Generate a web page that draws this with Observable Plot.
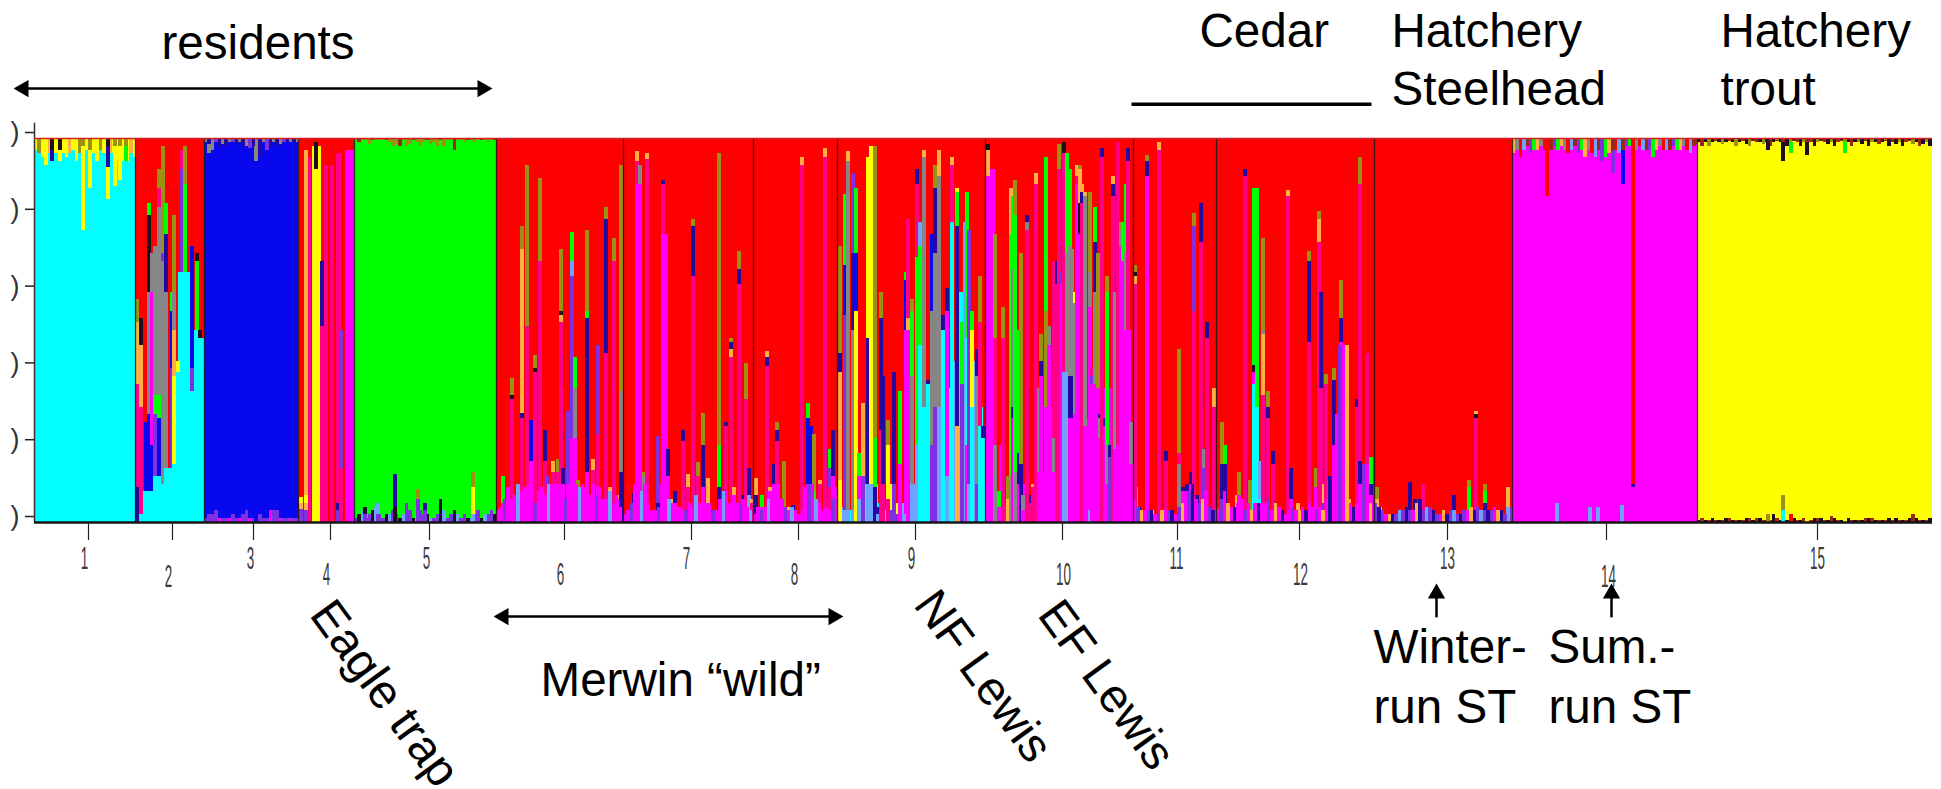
<!DOCTYPE html>
<html><head><meta charset="utf-8">
<script src="https://cdn.jsdelivr.net/npm/d3@7"></script>
<script src="https://cdn.jsdelivr.net/npm/@observablehq/plot@0.6"></script>
<style>html,body{margin:0;padding:0;background:#fff;overflow:hidden}svg{display:block}</style>
</head><body><div id="chart"></div>
<script>
// membership colours
const colorKeys = ["r","c","b","g","m","y","p","v","o","a","n","l","t","d","R"];
const colorVals = ["#ff0000","#00ffff","#0808ee","#00ff00","#ff00ff","#ffff00","#ff0088","#7f30e0","#9a9210","#868686","#2408a0","#6ea4ff","#ffb040","#1c1020","#9a2818"];

// populations: position where each one ends, and its main cluster
const popNames = [1,2,3,4,5,6,7,8,9,10,11,12,13,14,15];
const popStart = 34;
const popEnds = [135,204,298,354,496,623,753,837,985,1133,1216,1374,1512,1697,1932];
const popMain = "crbrgrrrrrrrrmy";
const colW = 3.4;

// axis
const yTicks = [0,.2,.4,.6,.8,1];
const xTickPos = [88,172,253,330,429,564,691,798,915,1062,1177,1299,1447,1606,1817];
const xLabelPos = [84,168,250,326,426,560,686,794,911,1063,1176,1300,1447,1608,1817];
const xLabelRow = [-.094,-.14,-.094,-.135,-.094,-.135,-.094,-.135,-.094,-.135,-.094,-.135,-.094,-.14,-.094];

// blocks [x1,x2,key,from,to]
const blocks = [
 // pop 2 cyan base
 [135,142,"c",0,.02],[142,150,"c",0,.08],[150,160,"c",0,.12],[160,170,"c",0,.14],[170,178,"c",0,.15],[178,192,"c",0,.65],[192,198,"c",0,.5],[198,204,"c",0,.48],
 // pop 4 stripes
 [305,308,"t",0,.97],[308,311,"p",0,.95],[312,321,"y",0,.98],[324,328,"p",0,.93],[330,334,"p",0,.93],[336,341,"p",0,.96],[345,354,"m",0,.97],
 // dark caps
 [34,135,"R",.988,1],[204,298,"R",.99,1],[354,496,"R",.994,1],[1512,1697,"R",.985,1],[1697,1932,"R",.992,1]
];

// runs of individuals along the bottom: {from, keys, tops, over: drawn above the individuals}
const lowRuns = [
 {over:true,from:496,keys:"mmvmmmlmm",tops:[.03,.04,.06,.09,.06,.07,.1,.08,.09,.1,.09,.05,.08,.09,.07,.1,.1,.1,.1,.08,.06,.06,.09,.1,.09,.1,.09,.07,.07,.07,.09,.06,.06,.08,.05,.07,.04]},
 {over:true,from:623,keys:"mmvmmlmm",tops:[.02,.03,.05,.1,.1,.08,.1,.05,.03,.03,.04,.1,.1,.06,.05,.04,.04,.03,.03,.05,.04,.07,.05,.09,.05,.05,.03,.03,.06,.08,.08,.05,.07,.05,.05,.06,.04,.03]},
 {over:true,from:753,keys:"mmvmlmm",tops:[.02,.04,.03,.04,.06,.08,.1,.1,.06,.04,.03,.04,.03,.02,.03,.04,.1,.1,.06,.05,.03,.04,.03,.06,.09]},
 {from:837,keys:"clcclc",tops:[.03,.04,.05,.03,.03,.05,.05,.05,.1,.12,.08,.1,.05,.04,.03,.04,.03,.04,.03,.05,.05,.05,.1,.1,.12,.1,.2,.3,.4,.45,.4,.35,.3,.35,.42,.5,.6,.78,.4,.3,.42,.45,.3,.22]},
 {from:985,keys:"mmmmmmmmmmmmlm",tops:[.92,.92,.92,.05,.2,.06,.05,.07,.06,.27,.27,.1,.1,.05,.06,.05,.1,.13,.2,.3,.46,.48,.5,.65,.65,.63,.5,.38,.38,.28,.27,.3,.3,.3,.28,.35,.35,.2,.2,.45,.55,.5,.5]},
 {over:true,from:1133,keys:"mvtmvn",tops:[.06,.04,.03,.03,.03,.03,.02,.02,.03,.03,.03,.03,.02,.04,.05,.08,.08,.1,.06,.05,.06,.08,.04,.03,.04]},
 {over:true,from:1216,keys:"mvmtmnm",tops:[.03,.06,.08,.05,.04,.04,.05,.06,.03,.05,.03,.05,.05,.05,.05,.06,.03,.05,.04,.03,.02,.03,.04,.03,.03,.04,.03,.05,.04,.03,.04,.03,.06,.12,.2,.28,.46,.46,.46,.05,.04,.05,.06,.15,.15,.05]},
 {over:true,from:1374,keys:"vnvmtnvl",tops:[.05,.04,.03,.02,.02,.02,.02,.03,.03,.04,.03,.03,.05,.06,.03,.04,.04,.03,.02,.02,.03,.02,.03,.03,.02,.02,.03,.03,.04,.03,.04,.03,.03,.03,.03,.04,.03,.03,.02,.03,.04]},
 {from:204,keys:"vmv",tops:[.01,.03,.02,.03,.01,.01,.01,.01,.02,.01,.01,.02,.03,.01,.01,.01,.01,.01,.01,.03,.03,.03,.01,.01,.01,.01,.01,.01]},
 {from:354,keys:"vdlv",tops:[.01,.02,.03,.01,.02,.03,.04,.02,.01,.02,.02,.03,.02,.01,.02,.05,.03,.01,.02,.03,.02,.02,.01,.01,.02,.06,.03,.01,.02,.03,.02,.01,.02,.01,.01,.02,.03,.01,.02,.02,.03,.02]},
 {from:1697,keys:"dR",tops:[.005,.01,.005,.005,.01,.005,.005,.005,.01,.01,.005,.005,.005,.005,.01,.01,.005,.01,.01,.005,.005,.005,.02,.01,.005,.015,.005,.01,.01,.005,.005,.01,.005,.005,.01,.01,.01,.005,.005,.015,.01,.005,.005,.01,.01,.005,.005,.005,.005,.01,.01,.01,.005,.005,.005,.005,.01,.005,.01,.005,.005,.005,.01,.02,.01,.005,.005,.005,.01]}
];

// runs of individuals along the top: {from, keys, depths}
const topRuns = [
 {from:34,keys:"yoyyty",depths:[.03,.04,.05,.07,.04,.06,.04,.03,.04,.05,.04,.03,.06,.04,.03,.03,.04,.04,.06,.03,.04,.04,.04,.04,.06,.04,.06,.06,.04,.05]},
 {from:204,keys:"anavn",depths:[.01,.04,.03,.01,.02,.015,.02,.01,.01,.015,.01,.02,.02,.025,.02,.02,.015,.01,.03,.02,.01,.02,.015,.01,.01,.01,.01,.01]},
 {from:354,keys:"oRoo",depths:[.005,.01,.005,.005,.015,.005,.005,.005,.005,.005,.01,.02,.015,.02,.005,.02,.015,.005,.01,.02,.01,.005,.015,.01,.02,.005,.02,.005,.005,.03,.005,.005,.01,.005,.005,.01,.005,.005,.005,.01,.005,.005]},
 {from:1512,keys:"tarlRvg",depths:[.04,.03,.05,.03,.02,.04,.03,.03,.02,.03,.04,.03,.02,.03,.02,.03,.04,.03,.02,.04,.03,.05,.03,.04,.05,.03,.06,.05,.04,.05,.03,.04,.03,.02,.02,.03,.03,.02,.03,.03,.03,.05,.03,.02,.03,.03,.03,.02,.03,.03,.02,.03,.04,.02]},
 {from:1697,keys:"dRdo",depths:[.01,.02,.01,.02,.01,.005,.01,.015,.01,.005,.01,.02,.01,.005,.015,.02,.005,.01,.01,.015,.01,.02,.01,.005,.01,.015,.02,.01,.005,.01,.02,.01,.015,.01,.02,.01,.005,.01,.015,.01,.02,.01,.005,.015,.01,.02,.01,.01,.015,.005,.02,.01,.01,.015,.01,.005,.02,.01,.015,.01,.02,.01,.005,.015,.01,.02,.015,.01,.02]}
];

// individuals: [position, clusters bottom-up, cumulative shares]
const cols1 = [[83,"cyo",.76,.98,1],[90,"cyo",.87,.97,1],[108,"cynd",.84,.925,.98,1],[115,"cyo",.875,.98,1],[120,"cyo",.89,.98,1],[126,"cgo",.94,.98,1],[52,"cnd",.94,.97,1],[60,"cyd",.94,.97,1]];
const cols2 = [[137,"npto",.09,.36,.52,.58],[141,"cptd",.02,.3,.46,.53],[146,"cb",.08,.26],[149,"cbadg",.08,.28,.6,.8,.83],[152,"cbma",.08,.2,.6,.7],[155,"cvga",.12,.28,.33,.72],[159,"cbgapo",.12,.27,.33,.82,.87,.92],[163,"cavo",.1,.68,.7,.98],[166,"cang",.14,.6,.75,.83],[172,"cvbg",.14,.4,.55,.6],[174,"cytao",.15,.38,.5,.6,.8],[178,"cy",.39,.42],[182,"cvp",.65,.92,.97],[185,"cgo",.65,.88,.98],[192,"cvb",.34,.4,.72],[197,"cgd",.5,.68,.7],[200,"cd",.48,.5]];
const cols3 = [[209,"vba",.02,.96,.985],[256,"ba",.94,.98],[260,"vbn",.02,.95,.985]];
const cols4 = [[301,"vtyr",.035,.05,.065,1],[306,"vtyt",.03,.05,.07,.97],[322,"pn",.51,.68],[316,"yd",.92,.99],[338,"vn",.03,.05],[341,"pv",.14,.5]];
const cols5 = [[395,"dn",.04,.125],[378,"vl",.02,.05],[418,"vo",.06,.085],[473,"lyo",.02,.09,.13],[365,"vd",.02,.04],[425,"vn",.03,.05]];
const cols6 = [[503,"mg",.05,.12],[512,"pdo",.32,.33,.375],[522,"pnto",.27,.285,.71,.77],[527,"po",.51,.93],[531,"lmb",.09,.16,.265],[535,"pdo",.39,.4,.435],[540,"po",.68,.895],[545,"mpn",.06,.16,.24],[548,"lpv",.02,.1,.12],[553,"pt",.13,.16],[558,"mpo",.09,.13,.165],[561,"lptdo",.09,.52,.54,.55,.71],[563,"mn",.1,.14],[568,"mv",.1,.29],[572,"mvlg",.22,.64,.68,.755],[575,"mag",.22,.35,.43],[578,"mo",.06,.11],[583,"mt",.04,.08],[587,"mngo",.13,.53,.55,.76],[593,"mpt",.1,.135,.165],[598,"mpv",.09,.23,.46],[606,"pno",.44,.79,.82],[610,"mt",.06,.09],[614,"po",.68,.74],[618,"mt",.06,.07],[621,"nao",.13,.34,.93]];
const cols7 = [[634,"mn",.03,.075],[637,"mpt",.88,.94,.965],[640,"ma",.88,.93],[644,"mao",.07,.12,.13],[647,"pt",.945,.96],[653,"vn",.02,.03],[658,"mnv",.02,.05,.225],[663,"mpn",.75,.88,.89],[666,"m",.75],[668,"mn",.12,.19],[673,"mt",.05,.06],[675,"mn",.05,.08],[683,"pn",.21,.24],[688,"pt",.09,.125],[693,"pno",.64,.77,.79],[698,"mpo",.05,.12,.155],[703,"mno",.09,.2,.285],[708,"pt",.05,.115],[719,"ngo",.09,.2,.96],[726,"vpn",.08,.25,.26],[731,"ptno",.43,.45,.47,.48],[734,"mt",.07,.09],[739,"pno",.62,.66,.705],[743,"mn",.06,.07],[746,"po",.32,.415],[749,"ln",.07,.14],[752,"pt",.05,.06]];
const cols8 = [[756,"nt",.07,.115],[762,"mg",.04,.07],[767,"pnt",.405,.43,.445],[770,"mt",.08,.09],[774,"mn",.1,.15],[777,"pno",.21,.24,.26],[780,"dv",.03,.04],[784,"do",.03,.16],[788,"dt",.03,.04],[793,"vn",.03,.045],[802,"pt",.93,.95],[805,"m",.09],[808,"mbg",.1,.27,.31],[811,"mb",.1,.25],[814,"mgo",.05,.08,.23],[820,"pt",.1,.11],[825,"pt",.95,.975],[830,"pvg",.09,.14,.19],[833,"mn",.12,.24]];
const cols9 = [[840,"ytno",.11,.39,.44,.72],[845,"lvbg",.03,.54,.67,.855],[848,"lat",.03,.94,.965],[853,"lanv",.03,.5,.7,.91],[856,"ybg",.55,.7,.87],[859,"lmg",.06,.12,.18],[863,"vt",.12,.31],[868,"lny",.1,.48,.95],[871,"ly",.1,.98],[875,"ngo",.09,.22,.98],[878,"ln",.02,.04],[881,"pno",.24,.53,.6],[883,"pn",.1,.38],[888,"pyo",.06,.2,.265],[892,"vy",.03,.1],[894,"vn",.1,.39],[898,"vy",.02,.05],[900,"mg",.15,.34],[906,"lmbg",.02,.5,.63,.65],[908,"mtp",.5,.53,.79],[912,"lago",.1,.38,.55,.58],[917,"lgpn",.2,.69,.88,.92],[920,"cgl",.46,.72,.78],[924,"caat",.3,.6,.95,.97],[928,"cn",.36,.37],[932,"vab",.2,.55,.75],[935,"vano",.3,.7,.87,.93],[939,"lat",.3,.9,.97],[943,"cn",.5,.54],[947,"lmn",.12,.55,.61],[952,"cpt",.78,.93,.95],[957,"tngy",.25,.77,.86,.87],[962,"vg",.36,.52],[967,"mcg",.2,.48,.86],[969,"lv",.1,.76],[972,"cyg",.3,.5,.55],[977,"van",.1,.38,.45],[980,"cpo",.25,.52,.64],[983,"cn",.22,.25]];
const cols10 = [[988,"mtd",.9,.97,.985],[995,"apo",.2,.48,.75],[999,"mg",.04,.08],[1003,"po",.48,.56],[1008,"to",.06,.12],[1011,"agt",.12,.75,.87],[1013,"mnag",.27,.3,.66,.85],[1015,"aggo",.13,.66,.8,.89],[1019,"mng",.1,.18,.5],[1021,"no",.15,.7],[1023,"ma",.03,.07],[1027,"pan",.76,.78,.8],[1031,"pn",.05,.07],[1033,"pt",.09,.1],[1036,"pt",.88,.91],[1039,"ma",.13,.35],[1041,"mno",.38,.42,.49],[1046,"mog",.3,.55,.95],[1049,"ma",.46,.51],[1054,"map",.13,.22,.68],[1057,"pn",.62,.68],[1059,"po",.92,.985],[1062,"mv",.62,.65],[1064,"lpd",.39,.96,.99],[1067,"lag",.39,.7,.96],[1070,"mnag",.27,.38,.72,.92],[1072,"mna",.27,.38,.71],[1075,"may",.28,.57,.6],[1077,"mpt",.88,.9,.93],[1080,"mdto",.75,.83,.92,.93],[1082,"pnt",.83,.86,.88],[1085,"mat",.25,.85,.86],[1090,"lmao",.03,.56,.65,.86],[1092,"mvp",.36,.38,.4],[1095,"mang",.36,.6,.73,.82],[1098,"mo",.35,.7],[1100,"man",.22,.27,.28],[1102,"pn",.95,.975],[1105,"mn",.25,.27],[1107,"mago",.1,.2,.6,.64],[1110,"vn",.17,.2],[1113,"pnt",.85,.88,.9],[1115,"ma",.19,.6],[1118,"mp",.2,.99],[1121,"mao",.72,.76,.78],[1123,"mg",.68,.78],[1126,"mag",.5,.7,.88],[1128,"mpn",.5,.94,.975],[1131,"ma",.15,.26]];
const cols11 = [[1136,"lg",.04,.09],[1135,"ptdo",.62,.64,.65,.67],[1139,"vn",.02,.04],[1147,"mno",.9,.94,.955],[1152,"vt",.02,.03],[1159,"pt",.97,.99],[1166,"vpn",.03,.16,.185],[1179,"apo",.15,.18,.45],[1183,"mn",.08,.09],[1187,"mn",.04,.1],[1191,"mn",.1,.13],[1194,"pvo",.55,.77,.805],[1197,"mn",.05,.07],[1201,"pn",.73,.83],[1204,"va",.14,.19],[1207,"pn",.48,.52],[1214,"pt",.3,.35]];
const cols12 = [[1222,"vno",.05,.15,.26],[1225,"ng",.15,.2],[1229,"vg",.02,.04],[1237,"vt",.04,.07],[1239,"mo",.07,.13],[1245,"pn",.9,.92],[1250,"mo",.03,.11],[1254,"cmdg",.36,.39,.41,.87],[1257,"cg",.3,.87],[1260,"cl",.06,.16],[1263,"ptao",.33,.49,.5,.74],[1268,"pno",.27,.3,.34],[1273,"pn",.15,.185],[1282,"vn",.02,.03],[1288,"pt",.85,.865],[1291,"mn",.06,.14],[1298,"vt",.03,.05],[1309,"pno",.47,.68,.705],[1316,"mo",.09,.14],[1319,"pto",.73,.79,.81],[1321,"pn",.35,.6],[1324,"vt",.05,.1],[1326,"po",.36,.385],[1329,"m",.11],[1334,"mno",.2,.37,.4],[1341,"mno",.47,.53,.63],[1349,"vt",.03,.06],[1357,"pn",.3,.32],[1360,"mnpo",.1,.16,.88,.95],[1367,"p",.44],[1371,"mng",.07,.1,.17]];
const cols13 = [[1377,"lto",.03,.06,.09],[1380,"lt",.02,.04],[1410,"mn",.03,.105],[1415,"vn",.02,.06],[1423,"mp",.02,.1],[1454,"vn",.02,.07],[1469,"mgo",.03,.09,.11],[1476,"pdt",.27,.28,.29],[1485,"ngo",.05,.08,.1],[1508,"lt",.04,.09]];
const cols14 = [[1633,"mnr",.09,.1,1],[1547,"mr",.85,1],[1613,"mvR",.91,.97,1],[1623,"mbR",.88,.97,1],[1557,"lm",.05,.05],[1590,"lm",.04,.04],[1598,"lm",.04,.04],[1622,"lm",.045,.045]];
const cols15 = [[1783,"coydR",.03,.07,.94,.99,1],[1768,"oyd",.02,.97,1],[1791,"ryg",.02,.96,.99],[1807,"ydR",.955,.99,1],[1845,"yg",.96,.99]];
const allCols = [...cols1,...cols2,...cols3,...cols4,...cols5,...cols6,...cols7,...cols8,...cols9,...cols10,...cols11,...cols12,...cols13,...cols14,...cols15];

// annotation text
const notes = [
 ["residents",161,1.208,0],["Cedar",1199,1.237,0],["Hatchery",1391,1.237,0],["Steelhead",1391,1.086,0],["Hatchery",1720,1.237,0],["trout",1720,1.086,0],
 ["Merwin \u201cwild\u201d",540,-.453,0],["Winter-",1373,-.367,0],["run ST",1373,-.521,0],["Sum.-",1548,-.367,0],["run ST",1548,-.521,0],
 ["Eagle trap",308,-.24,54],["NF Lewis",912,-.215,54],["EF Lewis",1036,-.24,54]
];
const lines = [[23,482,1.13,1.13],[503,833,-.245,-.245],[1436,1436,-.247,-.177],[1611,1611,-.247,-.177]];
const heads = [[23,1.13,-90],[482,1.13,90],[503,-.245,-90],[833,-.245,90],[1436,-.185,0],[1611,-.185,0]];
const cedarLine = [[1131,1371,1.089,1.089]];

// build rectangles
const rowsOf = (r,i,t)=>({x1:r.from+i*colW,x2:r.from+(i+1)*colW,k:r.keys[i%r.keys.length],y1:0,y2:t});
const rects = [];
popEnds.forEach((e,i)=>rects.push({x1:i?popEnds[i-1]:popStart,x2:e,k:popMain[i],y1:0,y2:1}));
blocks.forEach(b=>rects.push({x1:b[0],x2:b[1],k:b[2],y1:b[3],y2:b[4]}));
lowRuns.filter(r=>!r.over).forEach(r=>r.tops.forEach((t,i)=>rects.push(rowsOf(r,i,t))));
topRuns.forEach(r=>r.depths.forEach((t,i)=>rects.push({x1:r.from+i*colW,x2:r.from+(i+1)*colW,k:r.keys[i%r.keys.length],y1:1-t,y2:1})));
allCols.forEach(c=>{let y=0;const ks=c[1];for(let i=0;i<ks.length;i++){const to=c[2+i];if(to>y){rects.push({x1:c[0]-colW/2,x2:c[0]+colW/2,k:ks[i],y1:y,y2:to});y=to;}}});
lowRuns.filter(r=>r.over).forEach(r=>r.tops.forEach((t,i)=>rects.push(rowsOf(r,i,t))));

const narrow = sx => function(index,scales,values,dims,ctx,next){
  const g = next(index,scales,values,dims,ctx);
  g.querySelectorAll("text").forEach(t=>t.setAttribute("transform",(t.getAttribute("transform")||"")+` scale(${sx},1)`));
  return g;
};

const chart = Plot.plot({
  width:1941,height:789,marginLeft:34,marginRight:9,marginTop:138,marginBottom:267,
  style:{background:"#fff"},
  x:{domain:[34,1932],range:[34,1932],axis:null},
  y:{domain:[0,1],range:[522,138],axis:null},
  color:{type:"ordinal",domain:colorKeys,range:colorVals},
  marks:[
    Plot.rect(rects,{x1:"x1",x2:"x2",y1:"y1",y2:"y2",fill:"k",shapeRendering:"crispEdges",imageFilter:"blur(0.45px)"}),
    Plot.ruleX(popEnds.slice(0,-1),{y1:0,y2:1,stroke:"#1a1a1a",strokeWidth:1.3,strokeOpacity:.85}),
    Plot.ruleX([popStart],{y1:0,y2:1.04,stroke:"#333",strokeWidth:1.5}),
    Plot.ruleY([1],{x1:popStart,x2:1932,stroke:"#d02020",strokeWidth:1.5}),
    Plot.ruleY([0],{x1:popStart,x2:1932,stroke:"#151515",strokeWidth:2.5}),
    Plot.axisY({ticks:yTicks,tickSize:9,tickPadding:6,tickFormat:()=>")",fontSize:27,fontFamily:"Liberation Sans",dy:-6,color:"#333",label:null,stroke:"#222",strokeWidth:1.5}),
    Plot.axisX({ticks:xTickPos,tickSize:18,tickFormat:()=>"",label:null,stroke:"#222",strokeWidth:1.2}),
    Plot.text(popNames,{x:(d,i)=>xLabelPos[i],y:(d,i)=>xLabelRow[i],text:d=>String(d),fontSize:32,fontFamily:"Liberation Sans",fill:"#3a3a3a",textAnchor:"middle",lineAnchor:"middle",render:narrow(.42)}),
    Plot.text(notes,{x:d=>d[1],y:d=>d[2],text:d=>d[0],rotate:d=>d[3],fontSize:47.6,fontFamily:"Liberation Sans",fill:"#000",textAnchor:"start",lineAnchor:"bottom"}),
    Plot.link(lines,{x1:d=>d[0],x2:d=>d[1],y1:d=>d[2],y2:d=>d[3],stroke:"#000",strokeWidth:2.5}),
    Plot.link(cedarLine,{x1:d=>d[0],x2:d=>d[1],y1:d=>d[2],y2:d=>d[3],stroke:"#000",strokeWidth:3.5}),
    Plot.dot(heads,{x:d=>d[0],y:d=>d[1],rotate:d=>d[2],symbol:"triangle",r:6.4,fill:"#000",stroke:"none"})
  ]
});
document.getElementById("chart").appendChild(chart);
</script></body></html>
